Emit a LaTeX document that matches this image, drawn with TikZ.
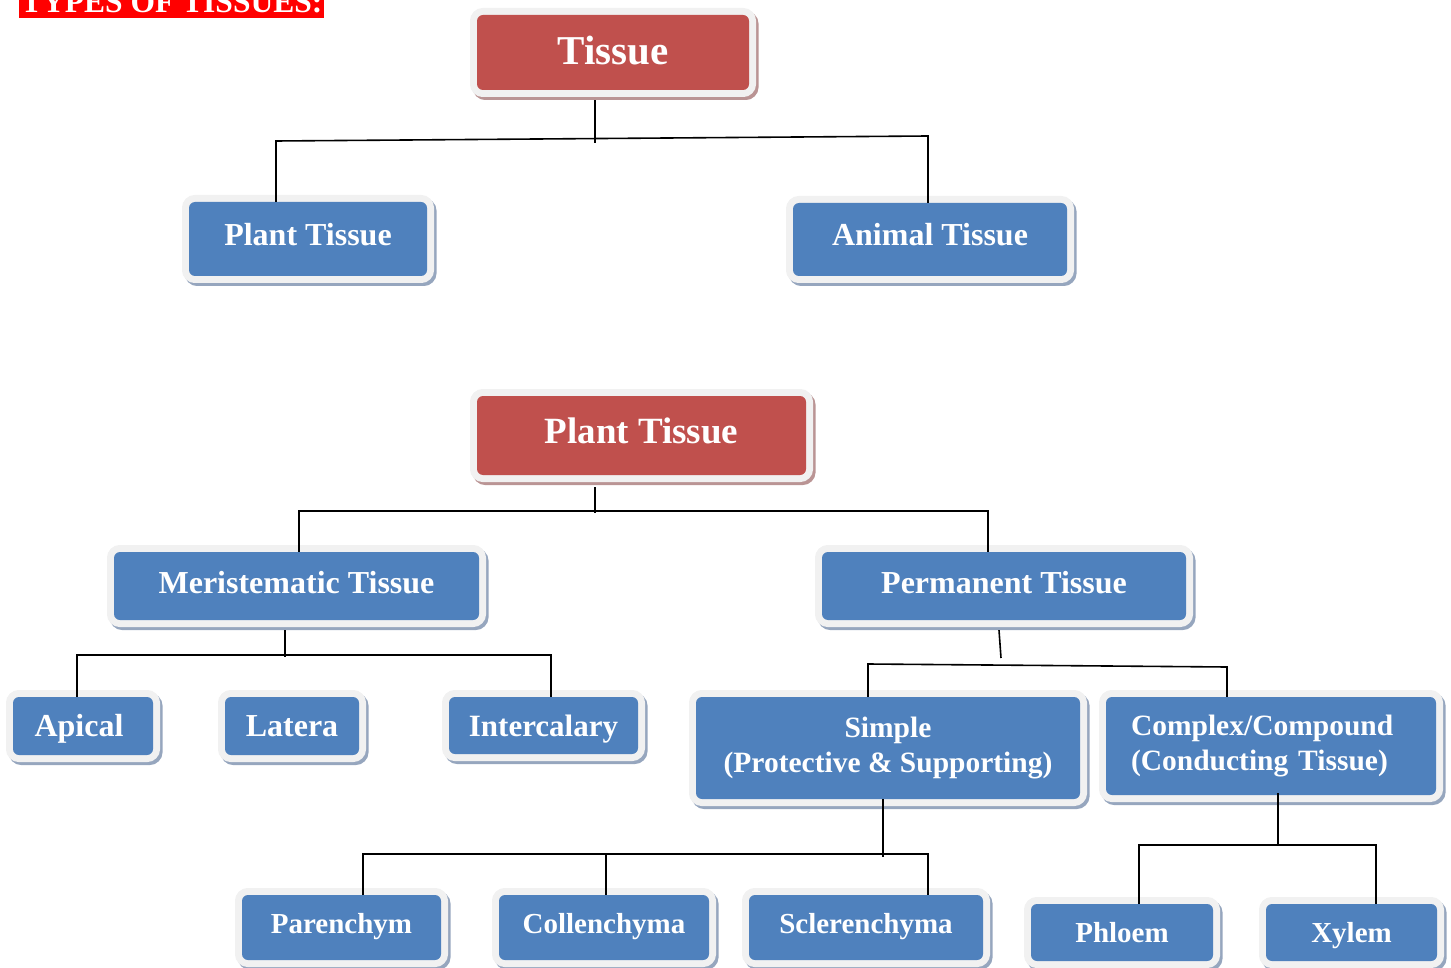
\documentclass[tikz,border=0pt]{standalone}
\usepackage{fontspec}
\setmainfont{Liberation Serif}
\definecolor{boxred}{HTML}{C0504D}
\definecolor{boxblue}{HTML}{4F81BD}
\definecolor{framec}{HTML}{F1F1F1}
\definecolor{bshadow}{RGB}{150,166,190}
\definecolor{rshadow}{RGB}{186,148,148}
\definecolor{titlered}{HTML}{FF0000}
\tikzset{
  framed/.style={
    preaction={fill=#1, draw=#1, line width=14pt, transform canvas={shift={(2.5pt,-3pt)}}},
    preaction={fill=framec, draw=framec, line width=14pt}},
  basebox/.style={rounded corners=6pt, inner sep=0pt, text=white, align=center},
  bluebox/.style={basebox, fill=boxblue, framed=bshadow},
  redbox/.style={basebox, fill=boxred, framed=rshadow},
  oneline/.style={text height=0.68*#1, text depth=0pt, font=\bfseries\fontsize{#1}{#1}\selectfont},
  twoline/.style={font=\bfseries\fontsize{29.5}{35}\selectfont},
  conn/.style={draw=black, line width=1.6pt},
}
\begin{document}
\begin{tikzpicture}[x=1pt,y=-1pt]
\useasboundingbox (0,0) rectangle (1451,968);

% title
\node[fill=titlered, text=white, anchor=base west, inner xsep=2pt, inner ysep=5pt,
      text depth=0pt, font=\bfseries\fontsize{31.5}{32}\selectfont] (title) at (19,13) {TYPES OF TISSUES:};

% boxes
\node[redbox, oneline=41, minimum width=272, minimum height=75] (tissue) at (613,52.5) {\raisebox{1.5pt}{Tissue}};
\node[bluebox, oneline=32, minimum width=238, minimum height=74] (plantA) at (308,239) {\raisebox{4pt}{Plant Tissue}};
\node[bluebox, oneline=32, minimum width=274, minimum height=73] (animal) at (930,239.5) {\raisebox{5pt}{Animal Tissue}};

\node[redbox, oneline=37, minimum width=329, minimum height=79] (plantB) at (641.5,435.5) {\raisebox{5pt}{Plant Tissue}};
\node[bluebox, oneline=32, minimum width=365, minimum height=68] (merist) at (296.5,586) {\raisebox{3.5pt}{Meristematic Tissue}};
\node[bluebox, oneline=32, minimum width=364, minimum height=68] (perm) at (1004,586) {\raisebox{3.5pt}{Permanent Tissue}};

\node[bluebox, oneline=32, minimum width=140, minimum height=58] (apical) at (83,726) {\hspace*{-8pt}Apical};
\node[bluebox, oneline=32, minimum width=134, minimum height=58] (latera) at (292,726) {Latera};
\node[bluebox, oneline=31, minimum width=189, minimum height=57] (inter) at (543.5,725.5) {Intercalary};
\node[bluebox, twoline, minimum width=384, minimum height=102] (simple) at (888,748) {Simple\\(Protective \& Supporting)};
\node[bluebox, twoline, minimum width=330, minimum height=98, align=left, inner xsep=25pt, text width=280pt] (complex) at (1271,746) {\raisebox{-2pt}{Complex/Compound}\\\raisebox{-2pt}{(Conducting Tissue)}};

\node[bluebox, oneline=29, minimum width=199, minimum height=65] (paren) at (341.5,927.5) {\raisebox{4pt}{Parenchym}};
\node[bluebox, oneline=29, minimum width=210, minimum height=65] (collen) at (604,927.5) {\raisebox{4pt}{Collenchyma}};
\node[bluebox, oneline=29, minimum width=234, minimum height=65] (scler) at (866,927.5) {\raisebox{4pt}{Sclerenchyma}};
\node[bluebox, oneline=29, minimum width=182, minimum height=57] (phloem) at (1122,932.5) {Phloem};
\node[bluebox, oneline=29, minimum width=171, minimum height=57] (xylem) at (1351.5,932.5) {Xylem};

% junction coordinates
\coordinate (c1T) at (595,143);
\coordinate (c1L) at (276,141);
\coordinate (c1R) at (928,136);
\coordinate (c2T) at (595,513);
\coordinate (c2L) at (299,511);
\coordinate (c2R) at (988,511);
\coordinate (c3T) at (285,657);
\coordinate (c3L) at (77,655);
\coordinate (c3R) at (551,655);
\coordinate (c4T) at (1001,658);
\coordinate (c4L) at (868,664);
\coordinate (c4R) at (1227,667);
\coordinate (c5T) at (883,857);
\coordinate (c5L) at (363,854);
\coordinate (c5M) at (606,854);
\coordinate (c5R) at (928,854);
\coordinate (c6T) at (1278,845);
\coordinate (c6L) at (1139,845);
\coordinate (c6R) at (1376,845);

% connectors
\draw[conn] ([yshift=-10pt]tissue.south -| c1T) -- (c1T);
\draw[conn] (plantA.north -| c1L) -- (c1L) -- (c1R) -- (animal.north -| c1R);

\draw[conn] ([yshift=-12pt]plantB.south -| c2T) -- (c2T);
\draw[conn] (merist.north -| c2L) -- (c2L) -- (c2R) -- (perm.north -| c2R);

\draw[conn] ([yshift=-10pt]merist.south -| c3T) -- (c3T);
\draw[conn] (apical.north -| c3L) -- (c3L) -- (c3R) -- (inter.north -| c3R);

\draw[conn] ([xshift=-5pt,yshift=-10pt]perm.south) -- (c4T);
\draw[conn] (simple.north -| c4L) -- (c4L) -- (c4R) -- (complex.north -| c4R);

\draw[conn] (simple.south -| c5T) -- (c5T);
\draw[conn] (paren.north -| c5L) -- (c5L) -- (c5R) -- (scler.north -| c5R);
\draw[conn] (collen.north -| c5M) -- (c5M);

\draw[conn] ([yshift=2pt]complex.south -| c6T) -- (c6T);
\draw[conn] (phloem.north -| c6L) -- (c6L) -- (c6R) -- (xylem.north -| c6R);
\end{tikzpicture}
\end{document}
